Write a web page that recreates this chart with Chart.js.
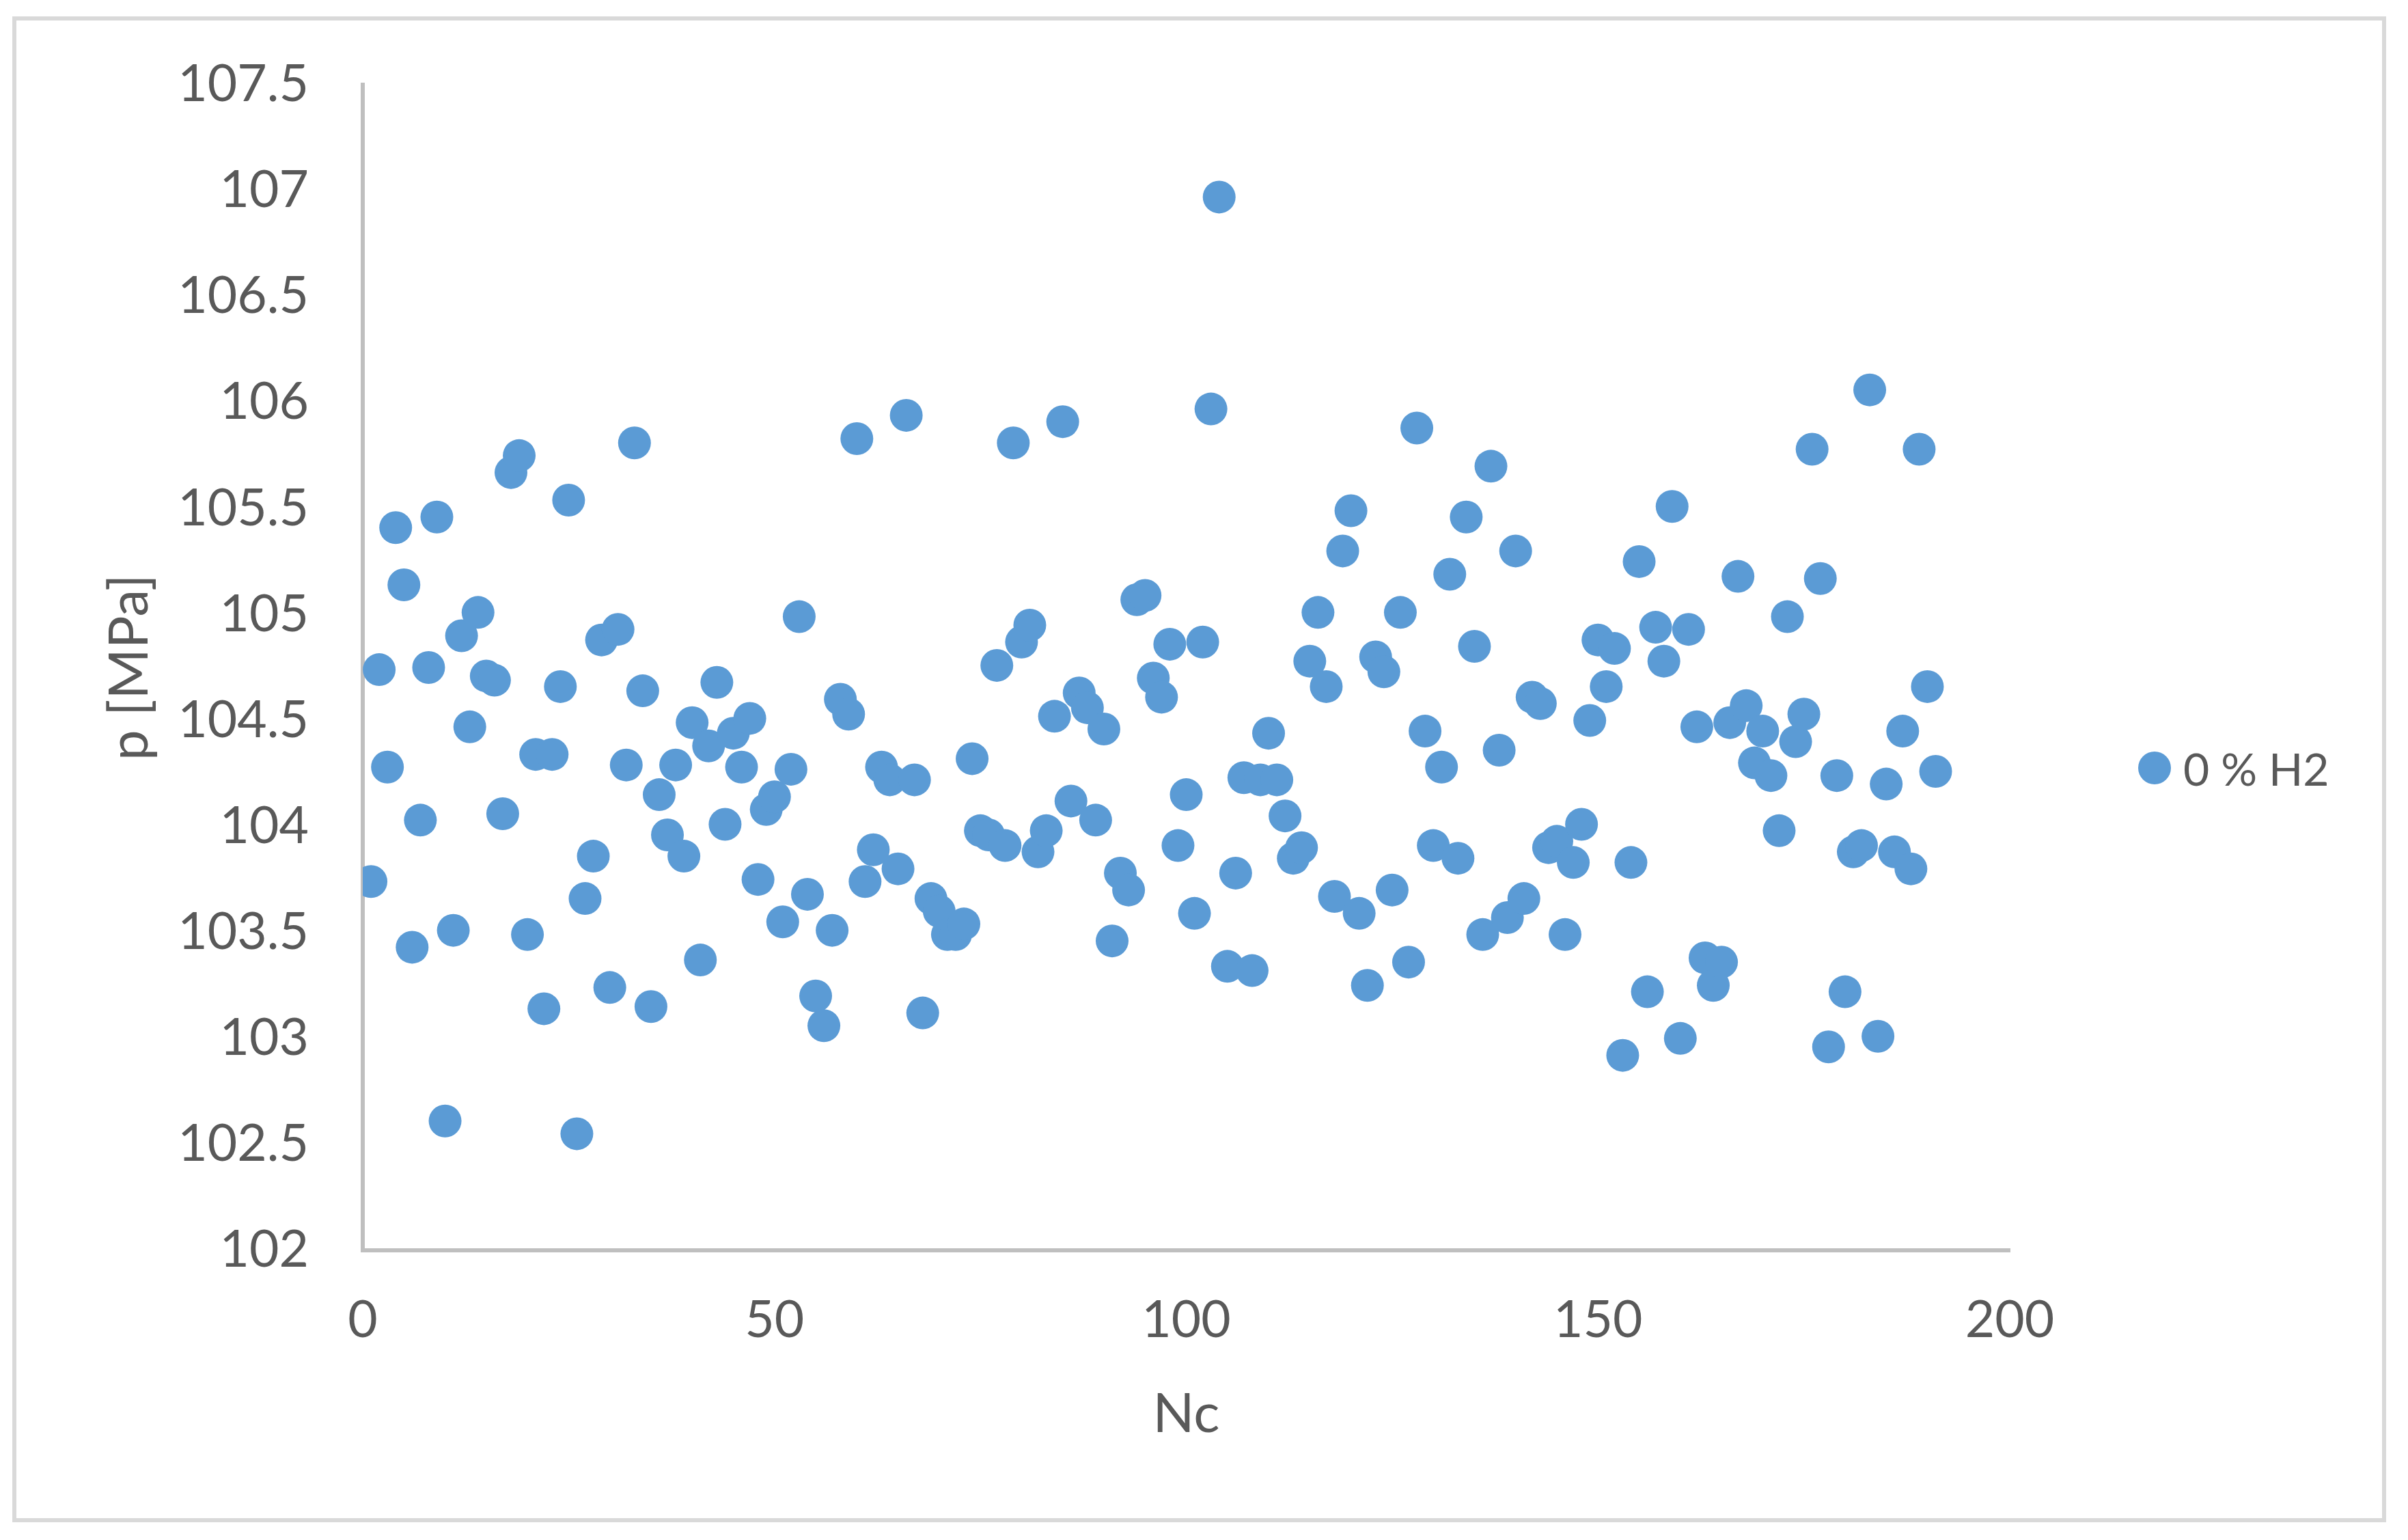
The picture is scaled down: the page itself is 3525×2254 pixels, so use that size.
<!DOCTYPE html>
<html>
<head>
<meta charset="utf-8">
<script src="https://cdn.jsdelivr.net/npm/chart.js@4.4.1/dist/chart.umd.min.js"></script>
<style>
  html,body{margin:0;padding:0;background:#fff}
  #wrap{position:relative;width:3525px;height:2254px;overflow:hidden}
  #frame{position:absolute;left:18px;top:24px;width:3475px;height:2204px;box-sizing:border-box;border:6px solid #D9D9D9;pointer-events:none}
  #legend{position:absolute;left:3130px;top:1076px;height:96px;display:flex;align-items:center;font-family:Lato,sans-serif;font-size:66px;color:#595959}
  #legend .dot{width:48px;height:48px;border-radius:50%;margin-right:18px}
</style>
</head>
<body>
<div id="wrap">
  <canvas id="chart" width="3525" height="2254"></canvas>
  <div id="frame"></div>
  <div id="legend"></div>
</div>
<script>
// cycle number (x) and peak pressure in MPa (y)
const nc = [1,2,3,4,5,6,7,8,9,10,11,12,13,14,15,16,17,18,19,20,
  21,22,23,24,25,26,27,28,29,30,31,32,33,34,35,36,37,38,39,40,
  41,42,43,44,45,46,47,48,49,50,51,52,53,54,55,56,57,58,59,60,
  61,62,63,64,65,66,67,68,69,70,71,72,73,74,75,76,77,78,79,80,
  81,82,83,84,85,86,87,88,89,90,91,92,93,94,95,96,97,98,99,100,
  101,102,103,104,105,106,107,108,109,110,111,112,113,114,115,116,117,118,119,120,
  121,122,123,124,125,126,127,128,129,130,131,132,133,134,135,136,137,138,139,140,
  141,142,143,144,145,146,147,148,149,150,151,152,153,154,155,156,157,158,159,160,
  161,162,163,164,165,166,167,168,169,170,171,172,173,174,175,176,177,178,179,180,
  181,182,183,184,185,186,187,188,189,190,191];

const pressure = [
  103.74,104.74,104.28,105.41,105.14,103.43,104.03,104.75,105.46,102.61,
  103.51,104.90,104.47,105.01,104.71,104.69,104.06,105.67,105.75,103.49,
  104.34,103.14,104.34,104.66,105.54,102.55,103.66,103.86,104.88,103.24,
  104.93,104.29,105.81,104.64,103.15,104.15,103.96,104.29,103.86,104.49,
  103.37,104.38,104.68,104.01,104.44,104.28,104.51,103.75,104.08,104.14,
  103.55,104.27,104.99,103.68,103.20,103.06,103.51,104.60,104.53,105.83,
  103.74,103.89,104.28,104.22,103.80,105.94,104.22,103.12,103.66,103.60,
  103.49,103.49,103.54,104.32,103.98,103.96,104.76,103.91,105.81,104.87,
  104.95,103.88,103.98,104.52,105.91,104.12,104.63,104.56,104.03,104.46,
  103.46,103.78,103.70,105.07,105.09,104.70,104.61,104.86,103.91,104.15,
  103.59,104.87,105.97,106.97,103.34,103.78,104.23,103.32,104.22,104.44,
  104.22,104.05,103.85,103.90,104.78,105.01,104.66,103.67,105.30,105.49,
  103.59,103.25,104.80,104.73,103.70,105.01,103.36,105.88,104.45,103.91,
  104.28,105.19,103.85,105.46,104.85,103.49,105.70,104.36,103.57,105.30,
  103.66,104.61,104.58,103.90,103.93,103.49,103.83,104.01,104.50,104.88,
  104.66,104.84,102.92,103.83,105.25,103.22,104.94,104.78,105.51,103.00,
  104.93,104.47,103.38,103.25,103.36,104.49,105.18,104.57,104.30,104.45,
  104.24,103.98,104.99,104.40,104.53,105.78,105.17,102.96,104.24,103.22,
  103.88,103.91,106.06,103.01,104.20,103.88,104.45,103.80,105.78,104.66,
  104.26];

const seriesName = '0 % H2';
const xTicks = [0, 50, 100, 150, 200];
const yTicks = [102, 102.5, 103, 103.5, 104, 104.5, 105, 105.5, 106, 106.5, 107, 107.5];

const BLUE = '#5B9BD5', TEXT = '#595959', AXIS = '#BFBFBF';
const FONT = 'Lato, "Open Sans", sans-serif';

const points = nc.map((n, i) => ({x: n, y: pressure[i]}));

new Chart(document.getElementById('chart'), {
  type: 'scatter',
  data: {datasets: [{label: seriesName, data: points, backgroundColor: BLUE, borderWidth: 0, pointRadius: 24, pointHoverRadius: 24}]},
  options: {
    responsive: false, animation: false, devicePixelRatio: 1,
    layout: {padding: {left: 0, top: 117, right: 583, bottom: 0}},
    plugins: {legend: {display: false}, tooltip: {enabled: false}},
    scales: {
      x: {
        type: 'linear', min: xTicks[0], max: xTicks[xTicks.length - 1],
        afterBuildTicks: s => { s.ticks = xTicks.map(v => ({value: v})); },
        afterFit: s => { s.height = 424; },
        grid: {display: false, drawTicks: false},
        border: {display: true, color: AXIS, width: 6},
        ticks: {color: TEXT, font: {family: FONT, size: 75}, padding: 58, callback: v => String(v)},
        title: {display: true, text: 'Nc', color: TEXT, font: {family: FONT, size: 80}, padding: {top: 0, bottom: 136}}
      },
      y: {
        type: 'linear', min: yTicks[0], max: yTicks[yTicks.length - 1],
        afterBuildTicks: s => { s.ticks = yTicks.map(v => ({value: v})); },
        afterFit: s => { s.width = 531; },
        grid: {display: false, drawTicks: false},
        border: {display: true, color: AXIS, width: 6},
        ticks: {color: TEXT, font: {family: FONT, size: 75}, padding: 79, callback: v => String(+v.toFixed(1))},
        title: {display: true, text: 'p [MPa]', color: TEXT, font: {family: FONT, size: 80}, padding: {top: 142, bottom: 0}}
      }
    }
  }
});

// legend drawn as html so it sits where the original had it
const lg = document.getElementById('legend');
lg.innerHTML = '<span class="dot" style="background:' + BLUE + '"></span><span>' + seriesName + '</span>';
</script>
</body>
</html>
